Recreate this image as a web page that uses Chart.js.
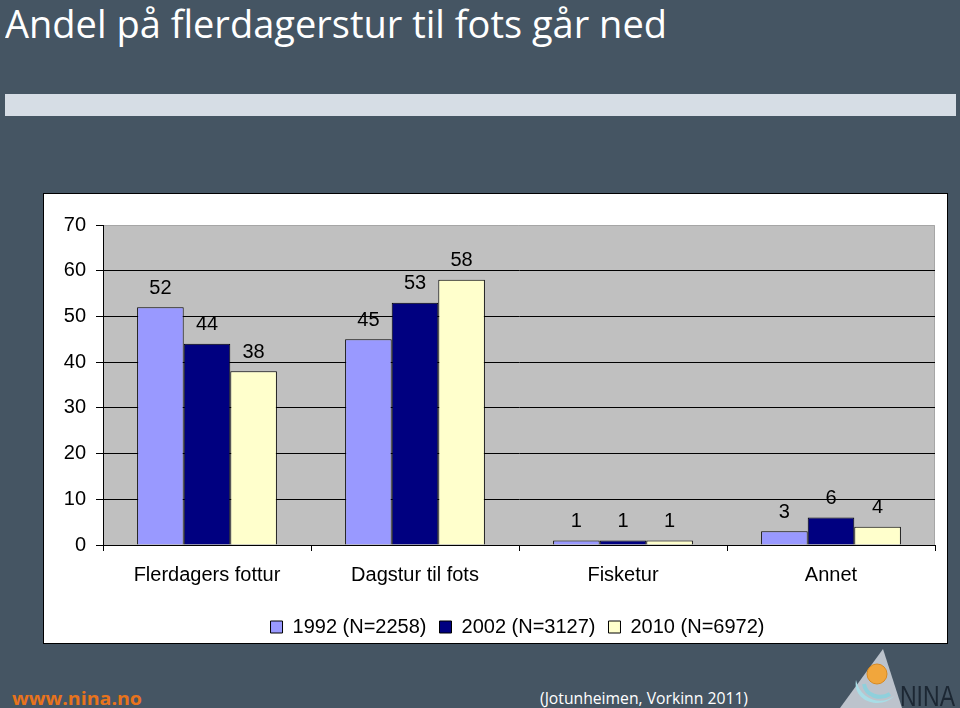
<!DOCTYPE html>
<html>
<head>
<meta charset="utf-8">
<script src="https://cdn.jsdelivr.net/npm/chart.js@4.4.1/dist/chart.umd.min.js"></script>
<style>
  html, body { margin: 0; padding: 0; }
  body { width: 960px; height: 708px; background: #455563; position: relative; overflow: hidden; }
  #title { position: absolute; left: 5px; top: -3px; color: #ffffff; font-family: "Open Sans", sans-serif; font-size: 38px; line-height: 52px; white-space: nowrap; transform-origin: 0 0; }
  #band { position: absolute; left: 5px; top: 94px; width: 951px; height: 22px; background: #d6dde5; }
  #panel { position: absolute; left: 43px; top: 193px; width: 903px; height: 449px; background: #ffffff; border: 1px solid #000000; }
  #chartWrap { position: absolute; left: 0; top: 0; width: 903px; height: 449px; }
  #www { position: absolute; left: 12px; top: 685px; color: #e8731c; font-family: "Open Sans", sans-serif; font-weight: bold; font-size: 18px; line-height: 26px; white-space: nowrap; transform-origin: 0 0; }
  #src { position: absolute; left: 540px; top: 686px; color: #ffffff; font-family: "Open Sans", sans-serif; font-size: 16px; line-height: 24px; white-space: nowrap; transform-origin: 0 0; }
  #logo { position: absolute; left: 830px; top: 640px; }
</style>
</head>
<body>
<div id="title">Andel på flerdagerstur til fots går ned</div>
<div id="band"></div>
<div id="panel"><div id="chartWrap"><canvas id="c" width="903" height="449"></canvas></div></div>
<div id="www">www.nina.no</div>
<div id="src">(Jotunheimen, Vorkinn 2011)</div>
<svg id="logo" width="130" height="68" viewBox="0 0 130 68">
  <polygon points="53,9 10,68 72,68" fill="#bcc3cc"/>
  <path d="M26,40 C22,62 52,70 64,56 C52,66 30,60 26,40 Z" fill="#a8dde6"/>
  <path d="M34,44 C36,56 50,60 60,54" stroke="#8fd0dc" stroke-width="4" fill="none"/>
  <circle cx="47" cy="34" r="10" fill="#f1a63c" stroke="#d98a20" stroke-width="1"/>
  <text x="70" y="66" font-family="Liberation Sans, Arial, sans-serif" font-size="29" fill="#1c2733" textLength="55" lengthAdjust="spacingAndGlyphs">NINA</text>
</svg>
<script>
// ---- data ----
const categories = ["Flerdagers fottur", "Dagstur til fots", "Fisketur", "Annet"];
const seriesNames = ["1992 (N=2258)", "2002 (N=3127)", "2010 (N=6972)"];
const values1992 = [52, 45, 1, 3];
const values2002 = [44, 53, 1, 6];
const values2010 = [38, 58, 1, 4];
const yTicks = [0, 10, 20, 30, 40, 50, 60, 70];

// fit text widths
function fitWidth(id, w) {
  const el = document.getElementById(id);
  const r = el.getBoundingClientRect().width;
  el.style.transform = 'scaleX(' + (w / r) + ')';
}
fitWidth('title', 662);
fitWidth('www', 130);
fitWidth('src', 208);

const FONT = '"Liberation Sans", Arial, sans-serif';
const FS = 20;
const LEGEND_SHIFT = 28;

const plotBg = {
  id: 'plotBg',
  beforeDraw(chart) {
    const a = chart.chartArea, ctx = chart.ctx;
    ctx.save();
    ctx.fillStyle = '#c0c0c0';
    ctx.fillRect(a.left, a.top, a.right - a.left, a.bottom - a.top);
    ctx.strokeStyle = '#a6a6a6';
    ctx.lineWidth = 1;
    ctx.beginPath();
    ctx.moveTo(a.left, a.top + 0.5);
    ctx.lineTo(a.right - 0.5, a.top + 0.5);
    ctx.lineTo(a.right - 0.5, a.bottom);
    ctx.stroke();
    ctx.restore();
  }
};

const shiftLegend = {
  id: 'shiftLegend',
  afterLayout(chart) {
    if (chart.legend) {
      chart.legend.left += LEGEND_SHIFT;
      chart.legend.right += LEGEND_SHIFT;
    }
  }
};

const valueLabels = {
  id: 'valueLabels',
  afterDatasetsDraw(chart) {
    const ctx = chart.ctx;
    ctx.save();
    ctx.fillStyle = '#000000';
    ctx.font = FS + 'px ' + FONT;
    ctx.textAlign = 'center';
    ctx.textBaseline = 'middle';
    chart.data.datasets.forEach((ds, i) => {
      chart.getDatasetMeta(i).data.forEach((bar, j) => {
        ctx.fillText(String(ds.data[j]), bar.x, bar.y - 19);
      });
    });
    ctx.restore();
  }
};

new Chart(document.getElementById('c'), {
  type: 'bar',
  data: {
    labels: categories,
    datasets: [
      { label: seriesNames[0], data: values1992, backgroundColor: '#9999ff', borderColor: '#000000', borderWidth: 1 },
      { label: seriesNames[1], data: values2002, backgroundColor: '#000080', borderColor: '#000000', borderWidth: 1 },
      { label: seriesNames[2], data: values2010, backgroundColor: '#ffffcc', borderColor: '#000000', borderWidth: 1 }
    ]
  },
  options: {
    responsive: false,
    animation: false,
    layout: { padding: { top: 31, right: 12, left: 0, bottom: -4 } },
    datasets: { bar: { barPercentage: 1.0, categoryPercentage: 0.672 } },
    scales: {
      x: {
        afterFit(scale) { scale.height = 59; },
        grid: { drawOnChartArea: false, drawTicks: true, tickLength: 6, tickColor: '#000000', offset: true },
        border: { color: '#000000', width: 1 },
        ticks: { color: '#000000', font: { family: FONT, size: FS }, padding: 12, maxRotation: 0 }
      },
      y: {
        min: 0, max: 70,
        afterBuildTicks(scale) { scale.ticks = yTicks.map(v => ({ value: v })); },
        afterFit(scale) { scale.width = 59; },
        grid: {
          color: ctx => (ctx.tick && ctx.tick.value === 70) ? 'rgba(0,0,0,0)' : '#000000',
          tickColor: '#000000', tickLength: 7, lineWidth: 1
        },
        border: { color: '#000000', width: 1 },
        ticks: { color: '#000000', font: { family: FONT, size: FS }, padding: 10 }
      }
    },
    plugins: {
      legend: {
        position: 'bottom',
        labels: {
          color: '#000000', font: { family: FONT, size: FS },
          boxWidth: 12, boxHeight: 12, padding: 13,
          generateLabels(chart) {
            return chart.data.datasets.map((ds, i) => ({
              text: ds.label, fillStyle: ds.backgroundColor, strokeStyle: '#000000', lineWidth: 1,
              fontColor: '#000000', datasetIndex: i, hidden: false
            }));
          }
        }
      },
      tooltip: { enabled: false }
    }
  },
  plugins: [plotBg, shiftLegend, valueLabels]
});
</script>
</body>
</html>
